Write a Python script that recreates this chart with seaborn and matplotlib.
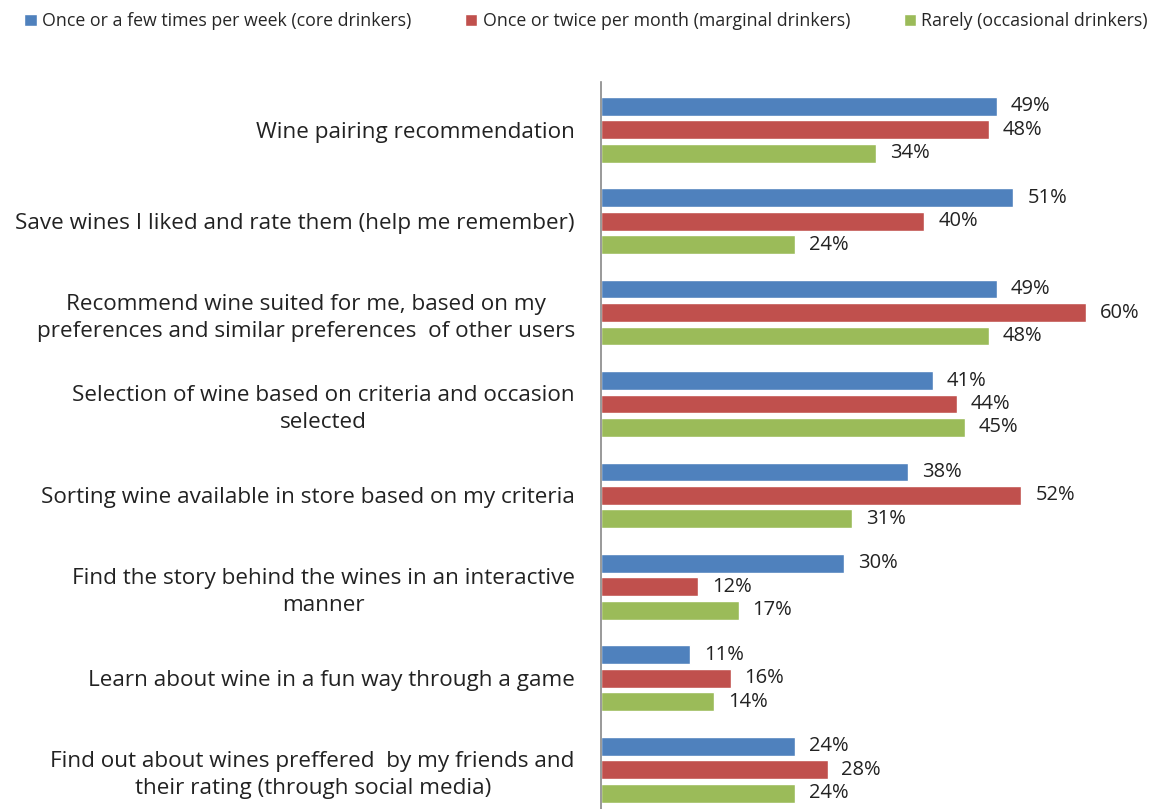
import matplotlib
matplotlib.use('Agg')
import matplotlib.pyplot as plt
import seaborn as sns
import pandas as pd

# Data
features = ['Wine pairing recommendation',
            'Save wines I liked and rate them (help me remember)',
            'Recommend wine suited for me, based on my\npreferences and similar preferences  of other users',
            'Selection of wine based on criteria and occasion\nselected',
            'Sorting wine available in store based on my criteria',
            'Find the story behind the wines in an interactive\nmanner',
            'Learn about wine in a fun way through a game',
            'Find out about wines preffered  by my friends and\ntheir rating (through social media)']
groups = ['Once or a few times per week (core drinkers)',
          'Once or twice per month (marginal drinkers)',
          'Rarely (occasional drinkers)']
core = [49, 51, 49, 41, 38, 30, 11, 24]
marginal = [48, 40, 60, 44, 52, 12, 16, 28]
rarely = [34, 24, 48, 45, 31, 17, 14, 24]
colors = ['#4F81BD', '#C0504D', '#9BBB59']

df = pd.DataFrame({'Feature': features * 3,
                   'Group': [groups[0]] * 8 + [groups[1]] * 8 + [groups[2]] * 8,
                   'Value': core + marginal + rarely})

sns.set_style('white')
plt.rcParams['font.family'] = ['Open Sans', 'DejaVu Sans']

fig = plt.figure(figsize=(11.54, 8.09), dpi=100)
ax = fig.add_axes([0.521, 0.0, 0.479, 0.899])

sns.barplot(data=df, y='Feature', x='Value', hue='Group', order=features,
            hue_order=groups, palette=colors, saturation=1, orient='h',
            width=0.77, gap=0.2, ax=ax, legend=True)

# value labels next to bars
for cont in ax.containers:
    ax.bar_label(cont, labels=[f'{v:.0f}%' for v in cont.datavalues],
                 padding=10, fontsize=14.5, color='#222222')

ax.set_xlim(0, 68.4)
ax.set_ylim(7.43, -0.525)
ax.set_xlabel('')
ax.set_ylabel('')
ax.set_xticks([])
for s in ['top', 'right', 'bottom']:
    ax.spines[s].set_visible(False)
ax.spines['left'].set_color('#888888')
ax.spines['left'].set_linewidth(1.2)
ax.tick_params(axis='y', length=0, pad=19)
for t in ax.get_yticklabels():
    t.set_fontsize(16.2)
    t.set_multialignment('center')
    t.set_linespacing(1.35)
    t.set_color('#222222')

handles, labels = ax.get_legend_handles_labels()
ax.get_legend().remove()
fig.legend(handles, labels, loc='upper center', bbox_to_anchor=(0.508, 1.005), ncol=3,
           frameon=False, fontsize=12.8, handlelength=0.7, handleheight=0.7,
           handletextpad=0.3, columnspacing=3.0)

fig.savefig('out.png', dpi=100)
